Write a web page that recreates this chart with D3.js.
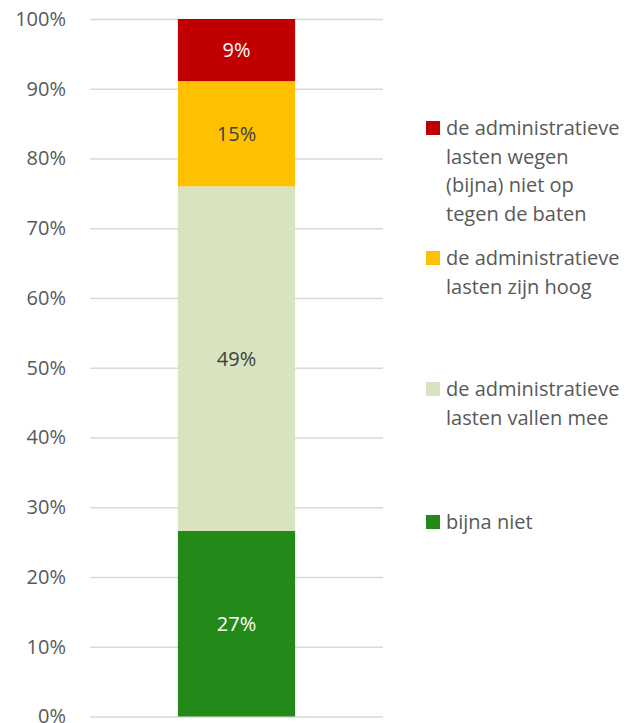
<!DOCTYPE html>
<html>
<head>
<meta charset="utf-8">
<script src="https://cdn.jsdelivr.net/npm/d3@7"></script>
<style>
  body { margin: 0; background: #fff; }
  text { font-family: "Open Sans", Lato, sans-serif; }
</style>
</head>
<body>
<div id="chart"></div>
<script>
// Series, bottom to top (shares of respondents)
const categories = ['bijna niet', 'de administratieve lasten vallen mee', 'de administratieve lasten zijn hoog', 'de administratieve lasten wegen (bijna) niet op tegen de baten'];
const values = [0.266, 0.494, 0.151, 0.089];
const colors = ['#238a19', '#d8e4bf', '#ffc000', '#c00000'];
const labelColors = ['#ffffff', '#404040', '#404040', '#ffffff'];
// Legend text wrapped as in the original
const legendLines = [
    ['bijna niet'],
    ['de administratieve', 'lasten vallen mee'],
    ['de administratieve', 'lasten zijn hoog'],
    ['de administratieve', 'lasten wegen', '(bijna) niet op', 'tegen de baten']
];
const yTicks = [0, 0.1, 0.2, 0.3, 0.4, 0.5, 0.6, 0.7, 0.8, 0.9, 1];

const width = 631, height = 723;
const plot = { left: 90, right: 383, top: 19, bottom: 716.5 };
const fontSize = '20px';

const svg = d3.select('#chart').append('svg')
    .attr('width', width)
    .attr('height', height);

const y = d3.scaleLinear().domain([0, 1]).range([plot.bottom, plot.top]);
const x = d3.scaleBand().domain(['all']).range([plot.left, plot.right]).paddingInner(0.6).paddingOuter(0.3);

// Gridlines + tick labels via axis
const yAxis = d3.axisLeft(y)
    .tickValues(yTicks)
    .tickFormat(d3.format('.0%'))
    .tickSize(-(plot.right - plot.left))
    .tickPadding(24);

const axisG = svg.append('g')
    .attr('transform', `translate(${plot.left},0)`)
    .call(yAxis);
axisG.select('.domain').remove();
axisG.selectAll('.tick line').attr('stroke', '#d9d9d9').attr('stroke-width', 1.3);
axisG.selectAll('.tick text')
    .attr('fill', '#595959')
    .attr('font-family', null)
    .style('font-size', fontSize);

// Stacked segments
let acc = 0;
const stacked = values.map((v, i) => {
    const s = { y0: acc, y1: acc + v, value: v, i: i };
    acc += v;
    return s;
});

svg.selectAll('rect.seg')
    .data(stacked)
    .enter()
    .append('rect')
    .attr('class', 'seg')
    .attr('x', x('all'))
    .attr('width', x.bandwidth())
    .attr('y', d => y(d.y1))
    .attr('height', d => y(d.y0) - y(d.y1))
    .attr('fill', d => colors[d.i]);

svg.selectAll('text.lbl')
    .data(stacked)
    .enter()
    .append('text')
    .attr('class', 'lbl')
    .attr('x', x('all') + x.bandwidth() / 2)
    .attr('y', d => y((d.y0 + d.y1) / 2))
    .attr('dy', '0.35em')
    .attr('text-anchor', 'middle')
    .attr('fill', d => labelColors[d.i])
    .style('font-size', fontSize)
    .text(d => d3.format('.0%')(d.value));

// Legend (top entry first)
const legendTop = [128, 258, 389, 522].reverse();
const lineH = 28.5;
const legend = svg.append('g');
legendLines.forEach((lines, i) => {
    const g = legend.append('g').attr('transform', `translate(426,${legendTop[i]})`);
    g.append('rect')
        .attr('x', 0)
        .attr('y', -7)
        .attr('width', 14)
        .attr('height', 14)
        .attr('fill', colors[i]);
    lines.forEach((line, j) => {
        g.append('text')
            .attr('x', 20)
            .attr('y', j * lineH)
            .attr('dy', '0.35em')
            .attr('fill', '#595959')
            .style('font-size', fontSize)
            .text(line);
    });
});
</script>
</body>
</html>
